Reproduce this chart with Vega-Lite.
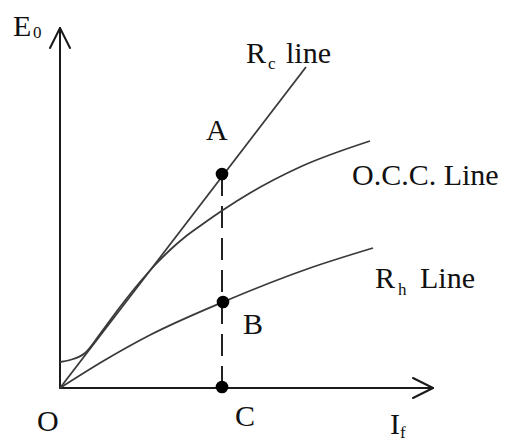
{
  "$schema": "https://vega.github.io/schema/vega-lite/v6.json",
  "width": 508,
  "height": 442,
  "padding": 0,
  "autosize": {"type": "none"},
  "background": "white",
  "config": {"view": {"stroke": null}},
  "datasets": {
    "curves": [
      {"series": "Rc", "x": 0, "y": 0},
      {"series": "Rc", "x": 246, "y": 321},
      {"series": "OCC", "x": 0, "y": 26},
      {"series": "OCC", "x": 10, "y": 28},
      {"series": "OCC", "x": 25, "y": 35},
      {"series": "OCC", "x": 40, "y": 54},
      {"series": "OCC", "x": 60, "y": 81},
      {"series": "OCC", "x": 80, "y": 106},
      {"series": "OCC", "x": 95, "y": 123},
      {"series": "OCC", "x": 110, "y": 138},
      {"series": "OCC", "x": 125, "y": 151},
      {"series": "OCC", "x": 140, "y": 162},
      {"series": "OCC", "x": 163, "y": 178},
      {"series": "OCC", "x": 190, "y": 195},
      {"series": "OCC", "x": 240, "y": 221},
      {"series": "OCC", "x": 310, "y": 247},
      {"series": "Rh", "x": 0, "y": 0},
      {"series": "Rh", "x": 45, "y": 28},
      {"series": "Rh", "x": 90, "y": 53},
      {"series": "Rh", "x": 163, "y": 86},
      {"series": "Rh", "x": 250, "y": 120},
      {"series": "Rh", "x": 313, "y": 140}
    ],
    "axes": [
      {"part": "yaxis", "x": 0, "y": 0, "x2": 0, "y2": 360},
      {"part": "xaxis", "x": 0, "y": 0, "x2": 373, "y2": 0},
      {"part": "yarrowL", "x": 0, "y": 360, "x2": -10, "y2": 340},
      {"part": "yarrowR", "x": 0, "y": 360, "x2": 10, "y2": 340},
      {"part": "xarrowU", "x": 373, "y": 0, "x2": 353, "y2": 10},
      {"part": "xarrowD", "x": 373, "y": 0, "x2": 353, "y2": -10}
    ],
    "dash": [
      {"x": 162, "y": 0, "x2": 162, "y2": 216}
    ],
    "points": [
      {"name": "A", "x": 162, "y": 214},
      {"name": "B", "x": 163, "y": 86},
      {"name": "C", "x": 162, "y": 1}
    ],
    "labels": [
      {"text": "E", "x": -47, "y": 352},
      {"text": "R", "x": 186, "y": 325},
      {"text": "line", "x": 226, "y": 325},
      {"text": "A", "x": 146, "y": 248},
      {"text": "O.C.C. Line", "x": 292, "y": 203},
      {"text": "R", "x": 315, "y": 100},
      {"text": "Line", "x": 360, "y": 100},
      {"text": "B", "x": 183, "y": 54},
      {"text": "O", "x": -23, "y": -43},
      {"text": "C", "x": 175, "y": -38},
      {"text": "I", "x": 330, "y": -46}
    ],
    "subs": [
      {"text": "0", "x": -27, "y": 350},
      {"text": "c", "x": 208, "y": 319},
      {"text": "h", "x": 338, "y": 93},
      {"text": "f", "x": 340, "y": -50}
    ]
  },
  "layer": [
    {
      "data": {"name": "axes"},
      "mark": {"type": "rule", "color": "#1a1a1a", "strokeWidth": 2, "strokeCap": "round"},
      "encoding": {
        "x": {"field": "x", "type": "quantitative", "scale": {"domain": [-60, 448], "nice": false, "zero": false}, "axis": null},
        "y": {"field": "y", "type": "quantitative", "scale": {"domain": [-54, 388], "nice": false, "zero": false}, "axis": null},
        "x2": {"field": "x2"},
        "y2": {"field": "y2"}
      }
    },
    {
      "data": {"name": "dash"},
      "mark": {"type": "rule", "color": "#222", "strokeWidth": 2, "strokeDash": [22, 10]},
      "encoding": {
        "x": {"field": "x", "type": "quantitative"},
        "y": {"field": "y", "type": "quantitative"},
        "x2": {"field": "x2"},
        "y2": {"field": "y2"}
      }
    },
    {
      "data": {"name": "curves"},
      "mark": {"type": "line", "color": "#3a3a3a", "strokeWidth": 1.8, "interpolate": "monotone"},
      "encoding": {
        "x": {"field": "x", "type": "quantitative"},
        "y": {"field": "y", "type": "quantitative"},
        "detail": {"field": "series", "type": "nominal"},
        "order": {"field": "x", "type": "quantitative"}
      }
    },
    {
      "data": {"name": "points"},
      "mark": {"type": "circle", "color": "#000", "size": 160, "opacity": 1},
      "encoding": {
        "x": {"field": "x", "type": "quantitative"},
        "y": {"field": "y", "type": "quantitative"}
      }
    },
    {
      "data": {"name": "labels"},
      "mark": {"type": "text", "font": "Liberation Serif", "fontSize": 30, "align": "left", "baseline": "alphabetic", "color": "#111"},
      "encoding": {
        "x": {"field": "x", "type": "quantitative"},
        "y": {"field": "y", "type": "quantitative"},
        "text": {"field": "text"}
      }
    },
    {
      "data": {"name": "subs"},
      "mark": {"type": "text", "font": "Liberation Serif", "fontSize": 17, "align": "left", "baseline": "alphabetic", "color": "#111"},
      "encoding": {
        "x": {"field": "x", "type": "quantitative"},
        "y": {"field": "y", "type": "quantitative"},
        "text": {"field": "text"}
      }
    }
  ]
}
